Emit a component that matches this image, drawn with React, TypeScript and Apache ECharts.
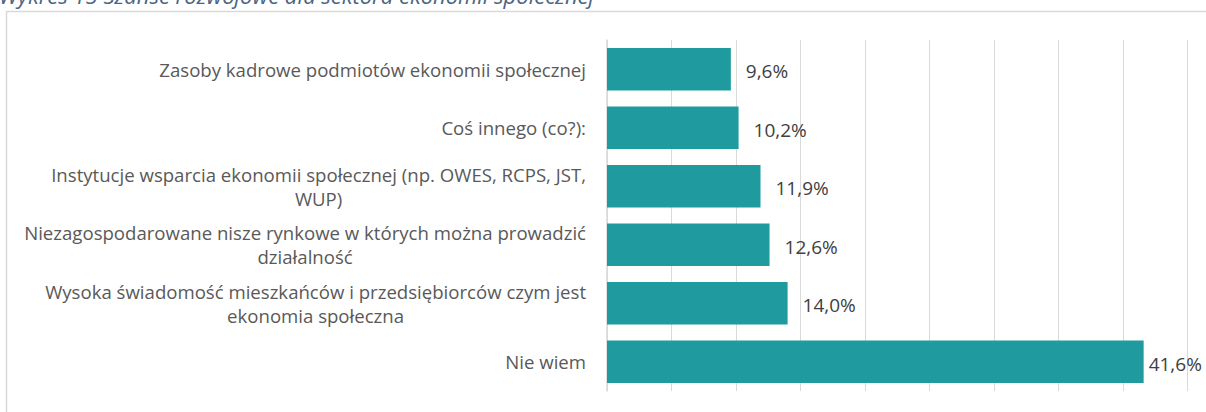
import React, { useEffect, useRef } from "react";
import * as echarts from "echarts";

const titleText = "Wykres 15 Szanse rozwojowe dla sektora ekonomii społecznej";

const categories = [
  "Zasoby kadrowe podmiotów ekonomii społecznej",
  "Coś innego (co?):",
  "Instytucje wsparcia ekonomii społecznej (np. OWES, RCPS, JST,\nWUP)",
  "Niezagospodarowane nisze rynkowe w których można prowadzić\ndziałalność",
  "Wysoka świadomość mieszkańców i przedsiębiorców czym jest\nekonomia społeczna",
  "Nie wiem",
];

const values = [9.6, 10.2, 11.9, 12.6, 14.0, 41.6];

const axisMin = 0;
const axisMax = 45;
const axisInterval = 5;

const FONT = "'Open Sans', 'Noto Sans', sans-serif";

export default function App() {
  const ref = useRef<HTMLDivElement>(null);

  useEffect(() => {
    if (!ref.current) return;
    const chart = echarts.init(ref.current, null, { renderer: "svg" });
    const lastIdx = values.length - 1;
    const seriesData = values.map((v, i) =>
      i === lastIdx ? { value: v, label: { distance: 5 } } : v
    );
    chart.setOption({
      animation: false,
      backgroundColor: "#ffffff",
      graphic: [
        {
          type: "rect",
          shape: { x: 6.5, y: 11.5, width: 1400, height: 600 },
          style: { fill: "none", stroke: "#d9d9d9", lineWidth: 1.5 },
          silent: true,
          z: -1,
        },
        {
          type: "text",
          x: -1,
          y: 5.5,
          style: {
            text: titleText,
            font: `italic 22px ${FONT}`,
            fill: "#4b6584",
            textAlign: "left",
            textVerticalAlign: "bottom",
          },
          silent: true,
        },
      ],
      grid: {
        left: 607,
        right: 18.5,
        top: 40,
        bottom: 21,
        containLabel: false,
      },
      xAxis: {
        type: "value",
        min: axisMin,
        max: axisMax,
        interval: axisInterval,
        axisLabel: { show: false },
        axisLine: { show: false },
        axisTick: { show: false },
        splitLine: { show: true, lineStyle: { color: "#d9d9d9", width: 1 } },
      },
      yAxis: {
        type: "category",
        inverse: true,
        data: categories,
        axisLine: { show: true, lineStyle: { color: "#d9d9d9", width: 1.5 } },
        axisTick: { show: false },
        axisLabel: {
          margin: 21,
          align: "right",
          formatter: (v: string) =>
            v
              .split("\n")
              .map((l) => `{c|${l}}`)
              .join("\n"),
          rich: {
            c: {
              align: "center",
              fontFamily: FONT,
              fontSize: 18.6,
              lineHeight: 24,
              color: "#595959",
            },
          },
        },
      },
      series: [
        {
          type: "bar",
          data: seriesData,
          barWidth: "73%",
          itemStyle: { color: "#1f9ba0" },
          label: {
            show: true,
            position: "right",
            distance: 15,
            offset: [0, 2],
            fontFamily: FONT,
            fontSize: 19,
            color: "#404040",
            formatter: (p: any) => p.value.toFixed(1).replace(".", ",") + "%",
          },
        },
      ],
    });
    return () => chart.dispose();
  }, []);

  return (
    <div
      ref={ref}
      style={{ position: "fixed", left: 0, top: 0, width: 1206, height: 412 }}
    />
  );
}
